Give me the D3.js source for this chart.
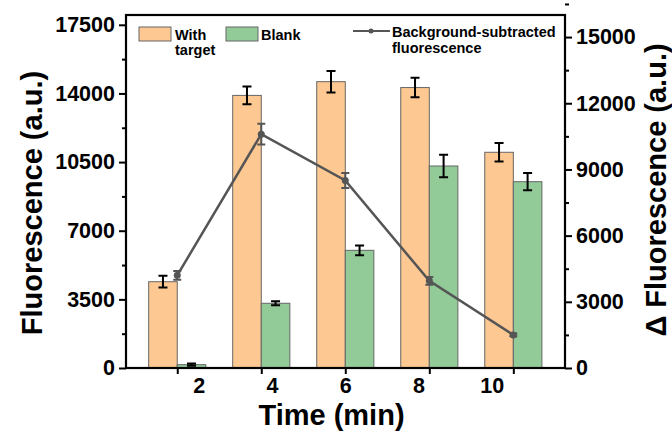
<!DOCTYPE html>
<html>
<head>
<meta charset="utf-8">
<script src="https://cdn.jsdelivr.net/npm/d3@7"></script>
<style>
body { margin: 0; background: #fff; }
text { font-family: "Liberation Sans", Arial, sans-serif; font-weight: bold; fill: #000; }
</style>
</head>
<body>
<svg id="chart" width="672" height="433"></svg>
<script>
"use strict";

// values
var times = [2, 4, 6, 8, 10];
var withTarget = [4400, 13900, 14600, 14300, 11000];
var withTargetErr = [300, 450, 550, 500, 470];
var blank = [170, 3300, 6000, 10300, 9500];
var blankErr = [60, 100, 250, 570, 440];
var deltaF = [4200, 10600, 8500, 3950, 1500];
var deltaFErr = [200, 470, 340, 180, 60];
var leftTicks = [0, 3500, 7000, 10500, 14000, 17500];
var rightTicks = [0, 3000, 6000, 9000, 12000, 15000];

var colOrange = "#fdc892";
var colGreen = "#92cb98";
var colLine = "#555555";

var margin = {top: 15, right: 107, bottom: 65, left: 126};
var width = 672 - margin.left - margin.right;
var height = 433 - margin.top - margin.bottom;
var barW = 0.68; // in x units

var svg = d3.select("#chart");
var g = svg.append("g").attr("transform", `translate(${margin.left},${margin.top})`);

var x = d3.scaleLinear().domain([0.78, 11.23]).range([0, width]);
// the tick labels in the original sit slightly off their tick marks
var xLabel = d3.scaleLinear().domain([2, 10]).range([x(2) + 22, x(10) - 21]);
var yL = d3.scaleLinear().domain([0, 18000]).range([height, 0]);
var yR = d3.scaleLinear().domain([0, 16000]).range([height, 0]);

// bars
var rows = times.map((t, i) => ({t: t, a: withTarget[i], ae: withTargetErr[i], b: blank[i], be: blankErr[i], d: deltaF[i], de: deltaFErr[i]}));

g.selectAll(".barA").data(rows).enter().append("rect")
	.attr("x", d => x(d.t - barW))
	.attr("width", d => x(d.t) - x(d.t - barW))
	.attr("y", d => yL(d.a))
	.attr("height", d => height - yL(d.a))
	.attr("fill", colOrange).attr("stroke", "#666").attr("stroke-width", 1);

g.selectAll(".barB").data(rows).enter().append("rect")
	.attr("x", d => x(d.t))
	.attr("width", d => x(d.t + barW) - x(d.t))
	.attr("y", d => yL(d.b))
	.attr("height", d => height - yL(d.b))
	.attr("fill", colGreen).attr("stroke", "#666").attr("stroke-width", 1);

// vertical error bar with caps; cy maps -1/+1 to the two ends
function errBar(sel, cx, cy, color, cap) {
	return sel.append("path")
		.attr("fill", "none").attr("stroke", color).attr("stroke-width", 2)
		.attr("d", `M${cx},${cy(-1)}V${cy(1)}M${cx - cap},${cy(-1)}H${cx + cap}M${cx - cap},${cy(1)}H${cx + cap}`);
}

rows.forEach(d => {
	errBar(g, x(d.t - barW / 2), s => yL(d.a + s * d.ae), "#000", 4.5);
	errBar(g, x(d.t + barW / 2), s => yL(d.b + s * d.be), "#000", 4.5);
});

// background-subtracted line on right axis
var line = d3.line().x(d => x(d.t)).y(d => yR(d.d));
g.append("path").datum(rows)
	.attr("d", line)
	.attr("fill", "none").attr("stroke", colLine).attr("stroke-width", 2.5);
rows.forEach(d => {
	errBar(g, x(d.t), s => yR(d.d + s * d.de), colLine, 4);
});
g.selectAll(".dot").data(rows).enter().append("circle")
	.attr("cx", d => x(d.t)).attr("cy", d => yR(d.d)).attr("r", 3.5)
	.attr("fill", colLine);

// axes
var fmt = d3.format("d");
var axL = g.append("g").call(d3.axisLeft(yL).tickValues(leftTicks).tickSize(7).tickPadding(4).tickFormat(fmt));
var axLm = g.append("g").call(d3.axisLeft(yL).tickValues(leftTicks.map(v => v + 1750)).tickSize(4).tickFormat(""));
var axR = g.append("g").attr("transform", `translate(${width},0)`)
	.call(d3.axisRight(yR).tickValues(rightTicks).tickSize(7).tickPadding(4).tickFormat(fmt));
var axRm = g.append("g").attr("transform", `translate(${width},0)`)
	.call(d3.axisRight(yR).tickValues(rightTicks.map(v => v + 1500)).tickSize(4).tickFormat(""));
var axB = g.append("g").attr("transform", `translate(0,${height})`)
	.call(d3.axisBottom(x).tickValues(times).tickSize(6).tickFormat(""));

[axL, axLm, axR, axRm, axB].forEach(a => {
	a.select(".domain").remove();
	a.selectAll(".tick line").attr("stroke", "#000").attr("stroke-width", 2);
	a.selectAll("text").attr("font-size", 21.5).attr("font-family", null);
});

g.append("g").selectAll("text").data(times).enter().append("text")
	.attr("x", d => xLabel(d)).attr("y", height + 25)
	.attr("text-anchor", "middle").attr("font-size", 21.5)
	.text(d => d);

// frame
g.append("rect").attr("width", width).attr("height", height)
	.attr("fill", "none").attr("stroke", "#000").attr("stroke-width", 2.2);

// axis titles
svg.append("text").attr("x", margin.left + width / 2 - 14).attr("y", 425)
	.attr("text-anchor", "middle").attr("font-size", 29).text("Time (min)");
svg.append("text").attr("transform", "translate(42,203) rotate(-90)")
	.attr("text-anchor", "middle").attr("font-size", 29).text("Fluorescence (a.u.)");
svg.append("text").attr("transform", "translate(666,190) rotate(-90)")
	.attr("text-anchor", "middle").attr("font-size", 29).text("\u0394 Fluorescence (a.u.)");

// legend
var leg = g.append("g");
leg.append("rect").attr("x", 13).attr("y", 12).attr("width", 32).attr("height", 14)
	.attr("fill", colOrange).attr("stroke", "#666");
leg.append("text").attr("x", 49).attr("y", 25).attr("font-size", 14.5).text("With");
leg.append("text").attr("x", 49).attr("y", 40).attr("font-size", 14.5).text("target");
leg.append("rect").attr("x", 100).attr("y", 12).attr("width", 32).attr("height", 14)
	.attr("fill", colGreen).attr("stroke", "#666");
leg.append("text").attr("x", 135).attr("y", 25).attr("font-size", 14.5).text("Blank");
leg.append("line").attr("x1", 227).attr("x2", 264).attr("y1", 16).attr("y2", 16)
	.attr("stroke", colLine).attr("stroke-width", 2);
leg.append("circle").attr("cx", 245).attr("cy", 16).attr("r", 2.5).attr("fill", colLine);
leg.append("text").attr("x", 266).attr("y", 22).attr("font-size", 14.5).text("Background-subtracted");
leg.append("text").attr("x", 266).attr("y", 38).attr("font-size", 14.5).text("fluorescence");
</script>
</body>
</html>
